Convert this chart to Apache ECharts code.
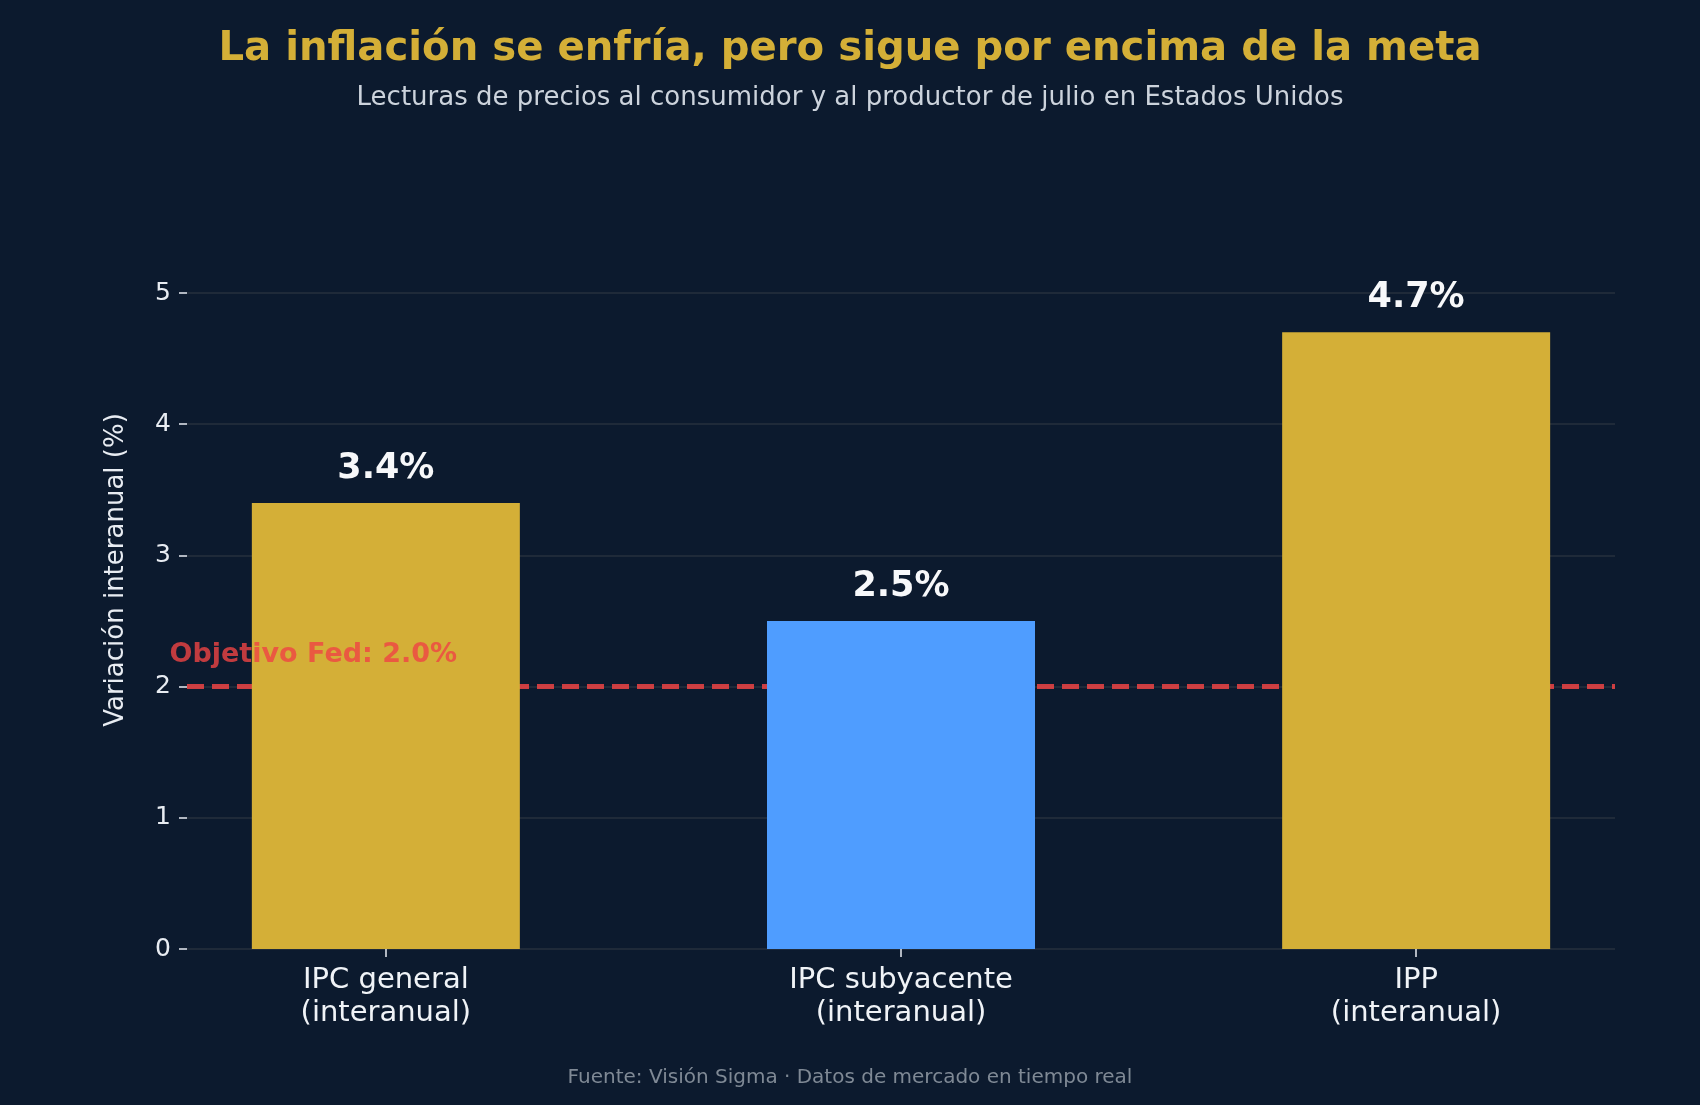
<!DOCTYPE html>
<html>
<head>
<meta charset="utf-8">
<title>La inflación se enfría</title>
<style>
  html, body { margin: 0; padding: 0; background: #0c1a2e; }
  #chart { width: 1700px; height: 1105px; }
</style>
<script src="https://cdn.jsdelivr.net/npm/echarts@6.0.0/dist/echarts.min.js"></script>
</head>
<body>
<div id="chart"></div>
<script>
// datos del gráfico
var categories = ['IPC general\n(interanual)', 'IPC subyacente\n(interanual)', 'IPP\n(interanual)'];
var values = [3.4, 2.5, 4.7];
var barColors = ['#d4af37', '#4f9dff', '#d4af37'];
var yTicks = [0, 1, 2, 3, 4, 5];
var fedTarget = 2.0;
var fedLabel = 'Objetivo Fed: 2.0%';
var fedLabelPos = [-0.42, 2.242]; // ancla del texto en coordenadas de datos

var FONT = '"DejaVu Sans", Verdana, sans-serif';

var dom = document.getElementById('chart');
var myChart = echarts.init(dom, null, { renderer: 'canvas' });

// barras: [indice, valor]
var barData = [];
for (var i = 0; i < values.length; i++) {
    barData.push({
        value: [i, values[i]],
        itemStyle: { color: barColors[i] }
    });
}
var catIdx = categories.map(function (c, i) { return i; });

var option = {
    backgroundColor: '#0c1a2e',
    textStyle: { fontFamily: FONT },
    animation: false,
    title: [
        {
            text: 'La inflación se enfría, pero sigue por encima de la meta',
            left: 'center', top: 30, padding: 0,
            textStyle: { fontFamily: FONT, fontSize: 40.2, fontWeight: 'bold', color: '#d4af37' }
        },
        {
            text: 'Lecturas de precios al consumidor y al productor de julio en Estados Unidos',
            left: 'center', top: 85, padding: 0,
            textStyle: { fontFamily: FONT, fontSize: 26, fontWeight: 'normal', color: '#ccd3dc' }
        },
        {
            text: 'Fuente: Visión Sigma · Datos de mercado en tiempo real',
            left: 'center', top: 1067.5, padding: 0,
            textStyle: { fontFamily: FONT, fontSize: 20, fontWeight: 'normal', color: '#7f8995' }
        }
    ],
    graphic: [
        {
            type: 'text',
            x: 116.5, y: 570,
            rotation: Math.PI / 2,
            style: {
                text: 'Variación interanual (%)',
                fontFamily: FONT, fontSize: 26,
                fill: '#e8ecf2',
                align: 'center', verticalAlign: 'middle'
            }
        }
    ],
    grid: {
        left: 187, right: 85, top: 293, bottom: 156,
        outerBoundsMode: 'none'
    },
    xAxis: {
        type: 'value',
        min: -0.386,
        max: 2.386,
        axisLine: { show: false },
        splitLine: { show: false },
        axisTick: {
            show: true,
            customValues: catIdx,
            length: 8,
            lineStyle: { color: '#e8ecf2', width: 1.5 }
        },
        axisLabel: {
            customValues: catIdx,
            formatter: function (v) { return categories[Math.round(v)]; },
            fontFamily: FONT,
            fontSize: 29,
            lineHeight: 33,
            color: '#f0f3f7',
            margin: 15
        }
    },
    yAxis: {
        type: 'value',
        min: 0,
        max: 5,
        interval: 1,
        axisLine: { show: false, onZero: false },
        axisTick: {
            show: true,
            length: 8,
            lineStyle: { color: '#e8ecf2', width: 1.5 }
        },
        axisLabel: {
            fontFamily: FONT,
            fontSize: 25,
            color: '#e8ecf2',
            margin: 16
        },
        splitLine: {
            show: true,
            lineStyle: { color: '#1f2a39', width: 2 }
        }
    },
    series: [
        {
            type: 'bar',
            data: barData,
            barWidth: 268,
            z: 2,
            label: {
                show: true,
                position: 'top',
                distance: 17,
                formatter: function (p) { return p.value[1].toFixed(1) + '%'; },
                fontFamily: FONT,
                fontSize: 35,
                fontWeight: 'bold',
                color: '#f7f8fa'
            },
            markLine: {
                silent: true,
                z: 1,
                symbol: 'none',
                label: { show: false },
                lineStyle: { color: '#ef4444', opacity: 0.85, width: 5, type: [17, 8] },
                data: [{ yAxis: fedTarget }]
            }
        },
        {
            // texto del objetivo de la Fed
            type: 'scatter',
            data: [fedLabelPos],
            symbolSize: 0,
            clip: false,
            z: 5,
            silent: true,
            label: {
                show: true,
                position: 'right',
                distance: 0,
                formatter: fedLabel,
                fontFamily: FONT,
                fontSize: 27,
                fontWeight: 'bold',
                color: '#ef4444'
            }
        }
    ]
};

myChart.setOption(option);
window.addEventListener('resize', myChart.resize);
</script>
</body>
</html>
